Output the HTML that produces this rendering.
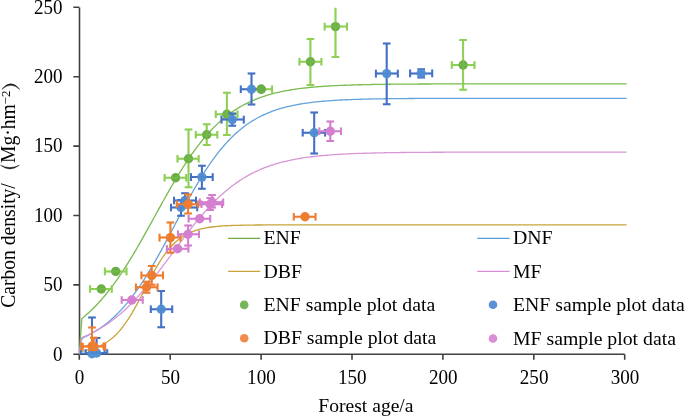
<!DOCTYPE html>
<html><head><meta charset="utf-8"><style>
html,body{margin:0;padding:0;background:#fff;}
svg{display:block;will-change:transform;}
text{font-family:"Liberation Serif",serif;font-size:19.6px;fill:#000;}
</style></head><body>
<svg width="685" height="416" viewBox="0 0 685 416">
<defs><clipPath id="pa"><rect x="79" y="7.4" width="548" height="347"/></clipPath></defs>
<rect width="685" height="416" fill="#fff"/>
<path d="M79.5,7.4V354.3H624.7M73.3,354.30H79.3M73.3,284.90H79.3M73.3,215.50H79.3M73.3,146.10H79.3M73.3,76.70H79.3M73.3,7.30H79.3M79.30,354.3V359.8M170.20,354.3V359.8M261.10,354.3V359.8M352.00,354.3V359.8M442.90,354.3V359.8M533.80,354.3V359.8M624.70,354.3V359.8" stroke="#404040" stroke-width="1.6" fill="none"/>
<g clip-path="url(#pa)" fill="none" stroke-width="1.3">
<path d="M79.30,354.30 L81.85,318.57 L82.94,317.68 L84.75,316.17 L86.57,314.60 L88.39,312.98 L90.21,311.30 L92.03,309.56 L93.84,307.77 L95.66,305.92 L97.48,304.01 L99.30,302.04 L101.12,300.01 L102.93,297.92 L104.75,295.76 L106.57,293.55 L108.39,291.28 L110.21,288.95 L112.02,286.55 L113.84,284.10 L115.66,281.58 L117.48,279.01 L119.30,276.38 L121.11,273.69 L122.93,270.94 L124.75,268.15 L126.57,265.30 L128.39,262.40 L130.20,259.45 L132.02,256.45 L133.84,253.42 L135.66,250.34 L137.48,247.22 L139.29,244.07 L141.11,240.89 L142.93,237.68 L144.75,234.44 L146.57,231.18 L148.38,227.91 L150.20,224.62 L152.02,221.32 L153.84,218.02 L155.66,214.71 L157.47,211.41 L159.29,208.11 L161.11,204.82 L162.93,201.55 L164.75,198.29 L166.56,195.06 L168.38,191.85 L170.20,188.67 L172.02,185.52 L173.84,182.41 L175.65,179.34 L177.47,176.31 L179.29,173.32 L181.11,170.38 L182.93,167.50 L184.74,164.66 L186.56,161.88 L188.38,159.15 L190.20,156.48 L192.02,153.87 L193.83,151.32 L195.65,148.83 L197.47,146.41 L199.29,144.04 L201.11,141.74 L202.92,139.51 L204.74,137.34 L206.56,135.23 L208.38,133.18 L210.20,131.20 L212.01,129.28 L213.83,127.42 L215.65,125.62 L217.47,123.88 L219.29,122.21 L221.10,120.59 L222.92,119.03 L224.74,117.52 L226.56,116.07 L228.38,114.68 L230.19,113.33 L232.01,112.04 L233.83,110.80 L235.65,109.60 L237.47,108.46 L239.28,107.36 L241.10,106.30 L242.92,105.29 L244.74,104.32 L246.56,103.39 L248.37,102.50 L250.19,101.64 L252.01,100.82 L253.83,100.04 L255.65,99.29 L257.46,98.58 L259.28,97.89 L261.10,97.24 L262.92,96.61 L264.74,96.01 L266.55,95.44 L268.37,94.89 L270.19,94.37 L272.01,93.88 L273.83,93.40 L275.64,92.95 L277.46,92.51 L279.28,92.10 L281.10,91.71 L282.92,91.33 L284.73,90.97 L286.55,90.63 L288.37,90.31 L290.19,90.00 L292.01,89.70 L293.82,89.42 L295.64,89.15 L297.46,88.90 L299.28,88.65 L301.10,88.42 L302.91,88.20 L304.73,87.99 L306.55,87.79 L308.37,87.60 L310.19,87.42 L312.00,87.24 L313.82,87.08 L315.64,86.92 L317.46,86.77 L319.28,86.63 L321.09,86.49 L322.91,86.36 L324.73,86.24 L326.55,86.12 L328.37,86.01 L330.18,85.91 L332.00,85.81 L333.82,85.71 L335.64,85.62 L337.46,85.53 L339.27,85.45 L341.09,85.37 L342.91,85.30 L344.73,85.23 L346.55,85.16 L348.36,85.10 L350.18,85.03 L352.00,84.98 L353.82,84.92 L355.64,84.87 L357.45,84.82 L359.27,84.77 L361.09,84.73 L362.91,84.68 L364.73,84.64 L366.54,84.60 L368.36,84.57 L370.18,84.53 L372.00,84.50 L373.82,84.47 L375.63,84.44 L377.45,84.41 L379.27,84.38 L381.09,84.35 L382.91,84.33 L384.72,84.30 L386.54,84.28 L388.36,84.26 L390.18,84.24 L392.00,84.22 L393.81,84.20 L395.63,84.19 L397.45,84.17 L399.27,84.15 L401.09,84.14 L402.90,84.12 L404.72,84.11 L406.54,84.10 L408.36,84.09 L410.18,84.07 L411.99,84.06 L413.81,84.05 L415.63,84.04 L417.45,84.03 L419.27,84.02 L421.08,84.01 L422.90,84.01 L424.72,84.00 L426.54,83.99 L428.36,83.98 L430.17,83.98 L431.99,83.97 L433.81,83.97 L435.63,83.96 L437.45,83.95 L439.26,83.95 L441.08,83.94 L442.90,83.94 L444.72,83.93 L446.54,83.93 L448.35,83.93 L450.17,83.92 L451.99,83.92 L453.81,83.92 L455.63,83.91 L457.44,83.91 L459.26,83.91 L461.08,83.90 L462.90,83.90 L464.72,83.90 L466.53,83.90 L468.35,83.89 L470.17,83.89 L471.99,83.89 L473.81,83.89 L475.62,83.88 L477.44,83.88 L479.26,83.88 L481.08,83.88 L482.90,83.88 L484.71,83.88 L486.53,83.88 L488.35,83.87 L490.17,83.87 L491.99,83.87 L493.80,83.87 L495.62,83.87 L497.44,83.87 L499.26,83.87 L501.08,83.87 L502.89,83.87 L504.71,83.86 L506.53,83.86 L508.35,83.86 L510.17,83.86 L511.98,83.86 L513.80,83.86 L515.62,83.86 L517.44,83.86 L519.26,83.86 L521.07,83.86 L522.89,83.86 L524.71,83.86 L526.53,83.86 L528.35,83.86 L530.16,83.86 L531.98,83.86 L533.80,83.86 L535.62,83.86 L537.44,83.85 L539.25,83.85 L541.07,83.85 L542.89,83.85 L544.71,83.85 L546.53,83.85 L548.34,83.85 L550.16,83.85 L551.98,83.85 L553.80,83.85 L555.62,83.85 L557.43,83.85 L559.25,83.85 L561.07,83.85 L562.89,83.85 L564.71,83.85 L566.52,83.85 L568.34,83.85 L570.16,83.85 L571.98,83.85 L573.80,83.85 L575.61,83.85 L577.43,83.85 L579.25,83.85 L581.07,83.85 L582.89,83.85 L584.70,83.85 L586.52,83.85 L588.34,83.85 L590.16,83.85 L591.98,83.85 L593.79,83.85 L595.61,83.85 L597.43,83.85 L599.25,83.85 L601.07,83.85 L602.88,83.85 L604.70,83.85 L606.52,83.85 L608.34,83.85 L610.16,83.85 L611.97,83.85 L613.79,83.85 L615.61,83.85 L617.43,83.85 L619.25,83.85 L621.06,83.85 L622.88,83.85 L624.70,83.85 L626.52,83.85" stroke="#78BB4E"/>
<path d="M79.30,354.30 L81.85,338.28 L82.94,337.80 L84.75,336.96 L86.57,336.09 L88.39,335.17 L90.21,334.21 L92.03,333.21 L93.84,332.16 L95.66,331.07 L97.48,329.92 L99.30,328.73 L101.12,327.48 L102.93,326.18 L104.75,324.82 L106.57,323.41 L108.39,321.93 L110.21,320.40 L112.02,318.81 L113.84,317.15 L115.66,315.43 L117.48,313.64 L119.30,311.79 L121.11,309.86 L122.93,307.87 L124.75,305.81 L126.57,303.68 L128.39,301.48 L130.20,299.21 L132.02,296.87 L133.84,294.46 L135.66,291.97 L137.48,289.42 L139.29,286.80 L141.11,284.11 L142.93,281.35 L144.75,278.52 L146.57,275.64 L148.38,272.69 L150.20,269.68 L152.02,266.62 L153.84,263.50 L155.66,260.33 L157.47,257.12 L159.29,253.86 L161.11,250.57 L162.93,247.23 L164.75,243.87 L166.56,240.48 L168.38,237.07 L170.20,233.65 L172.02,230.21 L173.84,226.76 L175.65,223.31 L177.47,219.87 L179.29,216.43 L181.11,213.01 L182.93,209.60 L184.74,206.22 L186.56,202.86 L188.38,199.54 L190.20,196.25 L192.02,193.01 L193.83,189.80 L195.65,186.65 L197.47,183.55 L199.29,180.50 L201.11,177.51 L202.92,174.58 L204.74,171.71 L206.56,168.91 L208.38,166.17 L210.20,163.50 L212.01,160.90 L213.83,158.38 L215.65,155.92 L217.47,153.53 L219.29,151.22 L221.10,148.98 L222.92,146.81 L224.74,144.71 L226.56,142.68 L228.38,140.73 L230.19,138.84 L232.01,137.02 L233.83,135.27 L235.65,133.58 L237.47,131.96 L239.28,130.40 L241.10,128.91 L242.92,127.47 L244.74,126.10 L246.56,124.78 L248.37,123.51 L250.19,122.30 L252.01,121.15 L253.83,120.04 L255.65,118.98 L257.46,117.97 L259.28,117.00 L261.10,116.08 L262.92,115.20 L264.74,114.36 L266.55,113.56 L268.37,112.80 L270.19,112.07 L272.01,111.38 L273.83,110.72 L275.64,110.09 L277.46,109.49 L279.28,108.92 L281.10,108.38 L282.92,107.87 L284.73,107.38 L286.55,106.91 L288.37,106.47 L290.19,106.05 L292.01,105.65 L293.82,105.27 L295.64,104.91 L297.46,104.57 L299.28,104.24 L301.10,103.93 L302.91,103.64 L304.73,103.36 L306.55,103.10 L308.37,102.85 L310.19,102.61 L312.00,102.38 L313.82,102.17 L315.64,101.97 L317.46,101.78 L319.28,101.59 L321.09,101.42 L322.91,101.26 L324.73,101.10 L326.55,100.95 L328.37,100.81 L330.18,100.68 L332.00,100.55 L333.82,100.43 L335.64,100.32 L337.46,100.21 L339.27,100.11 L341.09,100.02 L342.91,99.92 L344.73,99.84 L346.55,99.76 L348.36,99.68 L350.18,99.61 L352.00,99.54 L353.82,99.47 L355.64,99.41 L357.45,99.35 L359.27,99.29 L361.09,99.24 L362.91,99.19 L364.73,99.14 L366.54,99.09 L368.36,99.05 L370.18,99.01 L372.00,98.97 L373.82,98.94 L375.63,98.90 L377.45,98.87 L379.27,98.84 L381.09,98.81 L382.91,98.78 L384.72,98.75 L386.54,98.73 L388.36,98.71 L390.18,98.68 L392.00,98.66 L393.81,98.64 L395.63,98.62 L397.45,98.61 L399.27,98.59 L401.09,98.57 L402.90,98.56 L404.72,98.54 L406.54,98.53 L408.36,98.52 L410.18,98.50 L411.99,98.49 L413.81,98.48 L415.63,98.47 L417.45,98.46 L419.27,98.45 L421.08,98.44 L422.90,98.43 L424.72,98.43 L426.54,98.42 L428.36,98.41 L430.17,98.40 L431.99,98.40 L433.81,98.39 L435.63,98.39 L437.45,98.38 L439.26,98.38 L441.08,98.37 L442.90,98.37 L444.72,98.36 L446.54,98.36 L448.35,98.35 L450.17,98.35 L451.99,98.35 L453.81,98.34 L455.63,98.34 L457.44,98.34 L459.26,98.33 L461.08,98.33 L462.90,98.33 L464.72,98.33 L466.53,98.32 L468.35,98.32 L470.17,98.32 L471.99,98.32 L473.81,98.32 L475.62,98.31 L477.44,98.31 L479.26,98.31 L481.08,98.31 L482.90,98.31 L484.71,98.31 L486.53,98.31 L488.35,98.30 L490.17,98.30 L491.99,98.30 L493.80,98.30 L495.62,98.30 L497.44,98.30 L499.26,98.30 L501.08,98.30 L502.89,98.30 L504.71,98.30 L506.53,98.30 L508.35,98.30 L510.17,98.29 L511.98,98.29 L513.80,98.29 L515.62,98.29 L517.44,98.29 L519.26,98.29 L521.07,98.29 L522.89,98.29 L524.71,98.29 L526.53,98.29 L528.35,98.29 L530.16,98.29 L531.98,98.29 L533.80,98.29 L535.62,98.29 L537.44,98.29 L539.25,98.29 L541.07,98.29 L542.89,98.29 L544.71,98.29 L546.53,98.29 L548.34,98.29 L550.16,98.29 L551.98,98.29 L553.80,98.29 L555.62,98.29 L557.43,98.29 L559.25,98.29 L561.07,98.29 L562.89,98.29 L564.71,98.29 L566.52,98.29 L568.34,98.29 L570.16,98.29 L571.98,98.29 L573.80,98.29 L575.61,98.28 L577.43,98.28 L579.25,98.28 L581.07,98.28 L582.89,98.28 L584.70,98.28 L586.52,98.28 L588.34,98.28 L590.16,98.28 L591.98,98.28 L593.79,98.28 L595.61,98.28 L597.43,98.28 L599.25,98.28 L601.07,98.28 L602.88,98.28 L604.70,98.28 L606.52,98.28 L608.34,98.28 L610.16,98.28 L611.97,98.28 L613.79,98.28 L615.61,98.28 L617.43,98.28 L619.25,98.28 L621.06,98.28 L622.88,98.28 L624.70,98.28 L626.52,98.28" stroke="#65A2DA"/>
<path d="M79.30,351.74 L81.12,351.45 L82.94,351.14 L84.75,350.79 L86.57,350.40 L88.39,349.97 L90.21,349.49 L92.03,348.97 L93.84,348.39 L95.66,347.75 L97.48,347.04 L99.30,346.26 L101.12,345.41 L102.93,344.47 L104.75,343.44 L106.57,342.31 L108.39,341.08 L110.21,339.74 L112.02,338.27 L113.84,336.69 L115.66,334.97 L117.48,333.11 L119.30,331.12 L121.11,328.97 L122.93,326.68 L124.75,324.24 L126.57,321.66 L128.39,318.92 L130.20,316.05 L132.02,313.04 L133.84,309.91 L135.66,306.67 L137.48,303.33 L139.29,299.91 L141.11,296.43 L142.93,292.90 L144.75,289.36 L146.57,285.81 L148.38,282.28 L150.20,278.79 L152.02,275.37 L153.84,272.03 L155.66,268.78 L157.47,265.64 L159.29,262.63 L161.11,259.75 L162.93,257.01 L164.75,254.42 L166.56,251.98 L168.38,249.69 L170.20,247.55 L172.02,245.56 L173.84,243.71 L175.65,242.00 L177.47,240.42 L179.29,238.97 L181.11,237.64 L182.93,236.42 L184.74,235.31 L186.56,234.30 L188.38,233.38 L190.20,232.54 L192.02,231.78 L193.83,231.09 L195.65,230.47 L197.47,229.90 L199.29,229.39 L201.11,228.93 L202.92,228.52 L204.74,228.15 L206.56,227.81 L208.38,227.51 L210.20,227.24 L212.01,226.99 L213.83,226.77 L215.65,226.58 L217.47,226.40 L219.29,226.24 L221.10,226.10 L222.92,225.97 L224.74,225.86 L226.56,225.75 L228.38,225.66 L230.19,225.58 L232.01,225.50 L233.83,225.44 L235.65,225.38 L237.47,225.33 L239.28,225.28 L241.10,225.24 L242.92,225.20 L244.74,225.16 L246.56,225.13 L248.37,225.10 L250.19,225.08 L252.01,225.06 L253.83,225.04 L255.65,225.02 L257.46,225.00 L259.28,224.99 L261.10,224.98 L262.92,224.97 L264.74,224.96 L266.55,224.95 L268.37,224.94 L270.19,224.93 L272.01,224.92 L273.83,224.92 L275.64,224.91 L277.46,224.91 L279.28,224.90 L281.10,224.90 L282.92,224.90 L284.73,224.89 L286.55,224.89 L288.37,224.89 L290.19,224.89 L292.01,224.89 L293.82,224.88 L295.64,224.88 L297.46,224.88 L299.28,224.88 L301.10,224.88 L302.91,224.88 L304.73,224.88 L306.55,224.88 L308.37,224.88 L310.19,224.87 L312.00,224.87 L313.82,224.87 L315.64,224.87 L317.46,224.87 L319.28,224.87 L321.09,224.87 L322.91,224.87 L324.73,224.87 L326.55,224.87 L328.37,224.87 L330.18,224.87 L332.00,224.87 L333.82,224.87 L335.64,224.87 L337.46,224.87 L339.27,224.87 L341.09,224.87 L342.91,224.87 L344.73,224.87 L346.55,224.87 L348.36,224.87 L350.18,224.87 L352.00,224.87 L353.82,224.87 L355.64,224.87 L357.45,224.87 L359.27,224.87 L361.09,224.87 L362.91,224.87 L364.73,224.87 L366.54,224.87 L368.36,224.87 L370.18,224.87 L372.00,224.87 L373.82,224.87 L375.63,224.87 L377.45,224.87 L379.27,224.87 L381.09,224.87 L382.91,224.87 L384.72,224.87 L386.54,224.87 L388.36,224.87 L390.18,224.87 L392.00,224.87 L393.81,224.87 L395.63,224.87 L397.45,224.87 L399.27,224.87 L401.09,224.87 L402.90,224.87 L404.72,224.87 L406.54,224.87 L408.36,224.87 L410.18,224.87 L411.99,224.87 L413.81,224.87 L415.63,224.87 L417.45,224.87 L419.27,224.87 L421.08,224.87 L422.90,224.87 L424.72,224.87 L426.54,224.87 L428.36,224.87 L430.17,224.87 L431.99,224.87 L433.81,224.87 L435.63,224.87 L437.45,224.87 L439.26,224.87 L441.08,224.87 L442.90,224.87 L444.72,224.87 L446.54,224.87 L448.35,224.87 L450.17,224.87 L451.99,224.87 L453.81,224.87 L455.63,224.87 L457.44,224.87 L459.26,224.87 L461.08,224.87 L462.90,224.87 L464.72,224.87 L466.53,224.87 L468.35,224.87 L470.17,224.87 L471.99,224.87 L473.81,224.87 L475.62,224.87 L477.44,224.87 L479.26,224.87 L481.08,224.87 L482.90,224.87 L484.71,224.87 L486.53,224.87 L488.35,224.87 L490.17,224.87 L491.99,224.87 L493.80,224.87 L495.62,224.87 L497.44,224.87 L499.26,224.87 L501.08,224.87 L502.89,224.87 L504.71,224.87 L506.53,224.87 L508.35,224.87 L510.17,224.87 L511.98,224.87 L513.80,224.87 L515.62,224.87 L517.44,224.87 L519.26,224.87 L521.07,224.87 L522.89,224.87 L524.71,224.87 L526.53,224.87 L528.35,224.87 L530.16,224.87 L531.98,224.87 L533.80,224.87 L535.62,224.87 L537.44,224.87 L539.25,224.87 L541.07,224.87 L542.89,224.87 L544.71,224.87 L546.53,224.87 L548.34,224.87 L550.16,224.87 L551.98,224.87 L553.80,224.87 L555.62,224.87 L557.43,224.87 L559.25,224.87 L561.07,224.87 L562.89,224.87 L564.71,224.87 L566.52,224.87 L568.34,224.87 L570.16,224.87 L571.98,224.87 L573.80,224.87 L575.61,224.87 L577.43,224.87 L579.25,224.87 L581.07,224.87 L582.89,224.87 L584.70,224.87 L586.52,224.87 L588.34,224.87 L590.16,224.87 L591.98,224.87 L593.79,224.87 L595.61,224.87 L597.43,224.87 L599.25,224.87 L601.07,224.87 L602.88,224.87 L604.70,224.87 L606.52,224.87 L608.34,224.87 L610.16,224.87 L611.97,224.87 L613.79,224.87 L615.61,224.87 L617.43,224.87 L619.25,224.87 L621.06,224.87 L622.88,224.87 L624.70,224.87 L626.52,224.87" stroke="#C9A43C"/>
<path d="M79.30,354.30 L81.85,337.59 L82.94,337.14 L84.75,336.37 L86.57,335.57 L88.39,334.74 L90.21,333.87 L92.03,332.97 L93.84,332.03 L95.66,331.06 L97.48,330.05 L99.30,329.01 L101.12,327.92 L102.93,326.79 L104.75,325.63 L106.57,324.42 L108.39,323.17 L110.21,321.88 L112.02,320.55 L113.84,319.17 L115.66,317.75 L117.48,316.28 L119.30,314.77 L121.11,313.21 L122.93,311.60 L124.75,309.95 L126.57,308.26 L128.39,306.52 L130.20,304.73 L132.02,302.90 L133.84,301.02 L135.66,299.10 L137.48,297.14 L139.29,295.14 L141.11,293.09 L142.93,291.00 L144.75,288.88 L146.57,286.72 L148.38,284.52 L150.20,282.29 L152.02,280.03 L153.84,277.73 L155.66,275.41 L157.47,273.06 L159.29,270.70 L161.11,268.31 L162.93,265.90 L164.75,263.47 L166.56,261.04 L168.38,258.59 L170.20,256.14 L172.02,253.68 L173.84,251.23 L175.65,248.77 L177.47,246.32 L179.29,243.88 L181.11,241.44 L182.93,239.02 L184.74,236.62 L186.56,234.24 L188.38,231.87 L190.20,229.53 L192.02,227.22 L193.83,224.93 L195.65,222.68 L197.47,220.45 L199.29,218.27 L201.11,216.11 L202.92,214.00 L204.74,211.92 L206.56,209.89 L208.38,207.90 L210.20,205.95 L212.01,204.04 L213.83,202.18 L215.65,200.36 L217.47,198.59 L219.29,196.87 L221.10,195.19 L222.92,193.55 L224.74,191.97 L226.56,190.43 L228.38,188.93 L230.19,187.48 L232.01,186.08 L233.83,184.72 L235.65,183.40 L237.47,182.13 L239.28,180.90 L241.10,179.72 L242.92,178.57 L244.74,177.47 L246.56,176.40 L248.37,175.37 L250.19,174.39 L252.01,173.43 L253.83,172.52 L255.65,171.64 L257.46,170.79 L259.28,169.98 L261.10,169.19 L262.92,168.44 L264.74,167.72 L266.55,167.03 L268.37,166.37 L270.19,165.73 L272.01,165.12 L273.83,164.54 L275.64,163.98 L277.46,163.44 L279.28,162.93 L281.10,162.44 L282.92,161.97 L284.73,161.52 L286.55,161.09 L288.37,160.68 L290.19,160.28 L292.01,159.91 L293.82,159.55 L295.64,159.20 L297.46,158.88 L299.28,158.56 L301.10,158.26 L302.91,157.98 L304.73,157.70 L306.55,157.44 L308.37,157.19 L310.19,156.95 L312.00,156.73 L313.82,156.51 L315.64,156.30 L317.46,156.11 L319.28,155.92 L321.09,155.74 L322.91,155.57 L324.73,155.40 L326.55,155.25 L328.37,155.10 L330.18,154.96 L332.00,154.82 L333.82,154.69 L335.64,154.57 L337.46,154.45 L339.27,154.34 L341.09,154.23 L342.91,154.13 L344.73,154.04 L346.55,153.94 L348.36,153.86 L350.18,153.77 L352.00,153.69 L353.82,153.62 L355.64,153.54 L357.45,153.47 L359.27,153.41 L361.09,153.35 L362.91,153.29 L364.73,153.23 L366.54,153.17 L368.36,153.12 L370.18,153.07 L372.00,153.03 L373.82,152.98 L375.63,152.94 L377.45,152.90 L379.27,152.86 L381.09,152.82 L382.91,152.79 L384.72,152.75 L386.54,152.72 L388.36,152.69 L390.18,152.66 L392.00,152.64 L393.81,152.61 L395.63,152.59 L397.45,152.56 L399.27,152.54 L401.09,152.52 L402.90,152.50 L404.72,152.48 L406.54,152.46 L408.36,152.44 L410.18,152.42 L411.99,152.41 L413.81,152.39 L415.63,152.38 L417.45,152.36 L419.27,152.35 L421.08,152.34 L422.90,152.33 L424.72,152.32 L426.54,152.30 L428.36,152.29 L430.17,152.28 L431.99,152.27 L433.81,152.27 L435.63,152.26 L437.45,152.25 L439.26,152.24 L441.08,152.23 L442.90,152.23 L444.72,152.22 L446.54,152.21 L448.35,152.21 L450.17,152.20 L451.99,152.20 L453.81,152.19 L455.63,152.19 L457.44,152.18 L459.26,152.18 L461.08,152.17 L462.90,152.17 L464.72,152.16 L466.53,152.16 L468.35,152.16 L470.17,152.15 L471.99,152.15 L473.81,152.15 L475.62,152.15 L477.44,152.14 L479.26,152.14 L481.08,152.14 L482.90,152.13 L484.71,152.13 L486.53,152.13 L488.35,152.13 L490.17,152.13 L491.99,152.12 L493.80,152.12 L495.62,152.12 L497.44,152.12 L499.26,152.12 L501.08,152.12 L502.89,152.12 L504.71,152.11 L506.53,152.11 L508.35,152.11 L510.17,152.11 L511.98,152.11 L513.80,152.11 L515.62,152.11 L517.44,152.11 L519.26,152.11 L521.07,152.10 L522.89,152.10 L524.71,152.10 L526.53,152.10 L528.35,152.10 L530.16,152.10 L531.98,152.10 L533.80,152.10 L535.62,152.10 L537.44,152.10 L539.25,152.10 L541.07,152.10 L542.89,152.10 L544.71,152.10 L546.53,152.10 L548.34,152.10 L550.16,152.10 L551.98,152.09 L553.80,152.09 L555.62,152.09 L557.43,152.09 L559.25,152.09 L561.07,152.09 L562.89,152.09 L564.71,152.09 L566.52,152.09 L568.34,152.09 L570.16,152.09 L571.98,152.09 L573.80,152.09 L575.61,152.09 L577.43,152.09 L579.25,152.09 L581.07,152.09 L582.89,152.09 L584.70,152.09 L586.52,152.09 L588.34,152.09 L590.16,152.09 L591.98,152.09 L593.79,152.09 L595.61,152.09 L597.43,152.09 L599.25,152.09 L601.07,152.09 L602.88,152.09 L604.70,152.09 L606.52,152.09 L608.34,152.09 L610.16,152.09 L611.97,152.09 L613.79,152.09 L615.61,152.09 L617.43,152.09 L619.25,152.09 L621.06,152.09 L622.88,152.09 L624.70,152.09 L626.52,152.09" stroke="#D896D8"/>
</g>
<path clip-path="url(#pa)" d="M310.4,39V84.9M306.59999999999997,39H314.2M306.59999999999997,84.9H314.2M299.4,61.7H321.4M299.4,57.900000000000006V65.5M321.4,57.900000000000006V65.5M335.5,7.4V57M331.7,57H339.3M324.7,26.6H347M324.7,22.8V30.400000000000002M347,22.8V30.400000000000002M463.1,40V89.7M459.3,40H466.90000000000003M459.3,89.7H466.90000000000003M451.8,65.0H474.5M451.8,61.2V68.8M474.5,61.2V68.8M250.3,89.2H272.1M250.3,85.4V93.0M272.1,85.4V93.0M226.9,92.7V135M223.1,92.7H230.70000000000002M223.1,135H230.70000000000002M215.8,114.2H237.5M215.8,110.4V118.0M237.5,110.4V118.0M206.7,124.2V145M202.89999999999998,124.2H210.5M202.89999999999998,145H210.5M195.8,134.8H217.3M195.8,131.0V138.60000000000002M217.3,131.0V138.60000000000002M188.5,129.6V187.3M184.7,129.6H192.3M184.7,187.3H192.3M177.5,158.8H198.7M177.5,155.0V162.60000000000002M198.7,155.0V162.60000000000002M164.6,177.7H186.2M164.6,173.89999999999998V181.5M186.2,173.89999999999998V181.5M104.9,271.4H126.5M104.9,267.59999999999997V275.2M126.5,267.59999999999997V275.2M90.1,289.0H111.8M90.1,285.2V292.8M111.8,285.2V292.8" stroke="#8FCF55" stroke-width="2.0" fill="none"/>
<circle cx="310.4" cy="61.7" r="4.7" fill="#6BAE45"/>
<circle cx="335.5" cy="26.6" r="4.7" fill="#6BAE45"/>
<circle cx="463.1" cy="65.0" r="4.7" fill="#6BAE45"/>
<circle cx="261.2" cy="89.2" r="4.7" fill="#6BAE45"/>
<circle cx="226.9" cy="114.2" r="4.7" fill="#6BAE45"/>
<circle cx="206.7" cy="134.8" r="4.7" fill="#6BAE45"/>
<circle cx="188.5" cy="158.8" r="4.7" fill="#6BAE45"/>
<circle cx="175.6" cy="177.7" r="4.7" fill="#6BAE45"/>
<circle cx="115.7" cy="271.4" r="4.7" fill="#6BAE45"/>
<circle cx="101.3" cy="289.0" r="4.7" fill="#6BAE45"/>
<path clip-path="url(#pa)" d="M310.4,39V84.9M306.59999999999997,39H314.2M306.59999999999997,84.9H314.2M299.4,61.7H321.4M299.4,57.900000000000006V65.5M321.4,57.900000000000006V65.5M335.5,7.4V57M331.7,57H339.3M324.7,26.6H347M324.7,22.8V30.400000000000002M347,22.8V30.400000000000002M463.1,40V89.7M459.3,40H466.90000000000003M459.3,89.7H466.90000000000003M451.8,65.0H474.5M451.8,61.2V68.8M474.5,61.2V68.8M250.3,89.2H272.1M250.3,85.4V93.0M272.1,85.4V93.0M226.9,92.7V135M223.1,92.7H230.70000000000002M223.1,135H230.70000000000002M215.8,114.2H237.5M215.8,110.4V118.0M237.5,110.4V118.0M206.7,124.2V145M202.89999999999998,124.2H210.5M202.89999999999998,145H210.5M195.8,134.8H217.3M195.8,131.0V138.60000000000002M217.3,131.0V138.60000000000002M188.5,129.6V187.3M184.7,129.6H192.3M184.7,187.3H192.3M177.5,158.8H198.7M177.5,155.0V162.60000000000002M198.7,155.0V162.60000000000002M164.6,177.7H186.2M164.6,173.89999999999998V181.5M186.2,173.89999999999998V181.5M104.9,271.4H126.5M104.9,267.59999999999997V275.2M126.5,267.59999999999997V275.2M90.1,289.0H111.8M90.1,285.2V292.8M111.8,285.2V292.8" stroke="#8FCF55" stroke-width="2.0" fill="none" opacity="0.3"/>
<path clip-path="url(#pa)" d="M386.7,43.5V104.2M382.9,43.5H390.5M382.9,104.2H390.5M375.9,73.6H397.8M375.9,69.8V77.39999999999999M397.8,69.8V77.39999999999999M421.2,69.3V77.4M417.4,69.3H425.0M417.4,77.4H425.0M410.1,73.4H432.2M410.1,69.60000000000001V77.2M432.2,69.60000000000001V77.2M251.5,73.5V104.6M247.7,73.5H255.3M247.7,104.6H255.3M240.8,89.2H262.2M240.8,85.4V93.0M262.2,85.4V93.0M232.3,113.4V125.8M228.5,113.4H236.10000000000002M228.5,125.8H236.10000000000002M221.5,119.6H243.8M221.5,115.8V123.39999999999999M243.8,115.8V123.39999999999999M201.9,165.8V188.7M198.1,165.8H205.70000000000002M198.1,188.7H205.70000000000002M191,177.1H212.7M191,173.29999999999998V180.9M212.7,173.29999999999998V180.9M314.2,112.6V153.5M310.4,112.6H318.0M310.4,153.5H318.0M302.7,132.8H325.1M302.7,129.0V136.60000000000002M325.1,129.0V136.60000000000002M185,193.2V207.5M181.2,193.2H188.8M181.2,207.5H188.8M174,200.5H196M174,196.7V204.3M196,196.7V204.3M181,200V215.8M177.2,200H184.8M177.2,215.8H184.8M171,207.5H197.2M171,203.7V211.3M197.2,203.7V211.3M161.2,291V327.2M157.39999999999998,291H165.0M157.39999999999998,327.2H165.0M150.8,309.2H172.2M150.8,305.4V313.0M172.2,305.4V313.0M92,317.4V356M88.2,317.4H95.8M80.9,353.8H104.5M80.9,350.0V357.6M104.5,350.0V357.6M96.6,338V356M92.8,338H100.39999999999999M85.7,353H107.2M85.7,349.2V356.8M107.2,349.2V356.8" stroke="#4472C4" stroke-width="2.0" fill="none"/>
<circle cx="386.7" cy="73.6" r="4.7" fill="#5593D6"/>
<circle cx="421.2" cy="73.4" r="4.7" fill="#5593D6"/>
<circle cx="251.5" cy="89.2" r="4.7" fill="#5593D6"/>
<circle cx="232.3" cy="119.6" r="4.7" fill="#5593D6"/>
<circle cx="201.9" cy="177.1" r="4.7" fill="#5593D6"/>
<circle cx="314.2" cy="132.8" r="4.7" fill="#5593D6"/>
<circle cx="185" cy="200.5" r="4.7" fill="#5593D6"/>
<circle cx="181" cy="207.5" r="4.7" fill="#5593D6"/>
<circle cx="161.2" cy="309.2" r="4.7" fill="#5593D6"/>
<circle cx="92" cy="353.8" r="4.7" fill="#5593D6"/>
<circle cx="96.6" cy="353" r="4.7" fill="#5593D6"/>
<path clip-path="url(#pa)" d="M386.7,43.5V104.2M382.9,43.5H390.5M382.9,104.2H390.5M375.9,73.6H397.8M375.9,69.8V77.39999999999999M397.8,69.8V77.39999999999999M421.2,69.3V77.4M417.4,69.3H425.0M417.4,77.4H425.0M410.1,73.4H432.2M410.1,69.60000000000001V77.2M432.2,69.60000000000001V77.2M251.5,73.5V104.6M247.7,73.5H255.3M247.7,104.6H255.3M240.8,89.2H262.2M240.8,85.4V93.0M262.2,85.4V93.0M232.3,113.4V125.8M228.5,113.4H236.10000000000002M228.5,125.8H236.10000000000002M221.5,119.6H243.8M221.5,115.8V123.39999999999999M243.8,115.8V123.39999999999999M201.9,165.8V188.7M198.1,165.8H205.70000000000002M198.1,188.7H205.70000000000002M191,177.1H212.7M191,173.29999999999998V180.9M212.7,173.29999999999998V180.9M314.2,112.6V153.5M310.4,112.6H318.0M310.4,153.5H318.0M302.7,132.8H325.1M302.7,129.0V136.60000000000002M325.1,129.0V136.60000000000002M185,193.2V207.5M181.2,193.2H188.8M181.2,207.5H188.8M174,200.5H196M174,196.7V204.3M196,196.7V204.3M181,200V215.8M177.2,200H184.8M177.2,215.8H184.8M171,207.5H197.2M171,203.7V211.3M197.2,203.7V211.3M161.2,291V327.2M157.39999999999998,291H165.0M157.39999999999998,327.2H165.0M150.8,309.2H172.2M150.8,305.4V313.0M172.2,305.4V313.0M92,317.4V356M88.2,317.4H95.8M80.9,353.8H104.5M80.9,350.0V357.6M104.5,350.0V357.6M96.6,338V356M92.8,338H100.39999999999999M85.7,353H107.2M85.7,349.2V356.8M107.2,349.2V356.8" stroke="#4472C4" stroke-width="2.0" fill="none" opacity="0.3"/>
<circle cx="261.2" cy="89.2" r="4.7" fill="#6BAE45"/>
<path clip-path="url(#pa)" d="M293.8,216.8H315.5M293.8,213.0V220.60000000000002M315.5,213.0V220.60000000000002M188.1,194.6V213.4M184.29999999999998,194.6H191.9M184.29999999999998,213.4H191.9M176.8,204.2H198.2M176.8,200.39999999999998V208.0M198.2,200.39999999999998V208.0M170.4,222.5V252.8M166.6,222.5H174.20000000000002M166.6,252.8H174.20000000000002M159.5,237.6H180.5M159.5,233.79999999999998V241.4M180.5,233.79999999999998V241.4M151.7,266V284.8M147.89999999999998,266H155.5M147.89999999999998,284.8H155.5M141.4,275.4H163M141.4,271.59999999999997V279.2M163,271.59999999999997V279.2M146.5,281.8V292.7M142.7,281.8H150.3M142.7,292.7H150.3M135.9,287.3H157.5M135.9,283.5V291.1M157.5,283.5V291.1M92,327.4V350M88.2,327.4H95.8M88.2,350H95.8M81.2,346.2H103.6M81.2,342.4V350.0M103.6,342.4V350.0M93.8,337.8V350M90.0,337.8H97.6M90.0,350H97.6M82.7,346.6H105.2M82.7,342.8V350.40000000000003M105.2,342.8V350.40000000000003" stroke="#ED7D31" stroke-width="2.0" fill="none"/>
<circle cx="305" cy="216.8" r="4.7" fill="#ED7D31"/>
<circle cx="188.1" cy="204.2" r="4.7" fill="#ED7D31"/>
<circle cx="170.4" cy="237.6" r="4.7" fill="#ED7D31"/>
<circle cx="151.7" cy="275.4" r="4.7" fill="#ED7D31"/>
<circle cx="146.5" cy="287.3" r="4.7" fill="#ED7D31"/>
<circle cx="92" cy="346.2" r="4.7" fill="#ED7D31"/>
<circle cx="93.8" cy="346.6" r="4.7" fill="#ED7D31"/>
<path clip-path="url(#pa)" d="M293.8,216.8H315.5M293.8,213.0V220.60000000000002M315.5,213.0V220.60000000000002M188.1,194.6V213.4M184.29999999999998,194.6H191.9M184.29999999999998,213.4H191.9M176.8,204.2H198.2M176.8,200.39999999999998V208.0M198.2,200.39999999999998V208.0M170.4,222.5V252.8M166.6,222.5H174.20000000000002M166.6,252.8H174.20000000000002M159.5,237.6H180.5M159.5,233.79999999999998V241.4M180.5,233.79999999999998V241.4M151.7,266V284.8M147.89999999999998,266H155.5M147.89999999999998,284.8H155.5M141.4,275.4H163M141.4,271.59999999999997V279.2M163,271.59999999999997V279.2M146.5,281.8V292.7M142.7,281.8H150.3M142.7,292.7H150.3M135.9,287.3H157.5M135.9,283.5V291.1M157.5,283.5V291.1M92,327.4V350M88.2,327.4H95.8M88.2,350H95.8M81.2,346.2H103.6M81.2,342.4V350.0M103.6,342.4V350.0M93.8,337.8V350M90.0,337.8H97.6M90.0,350H97.6M82.7,346.6H105.2M82.7,342.8V350.40000000000003M105.2,342.8V350.40000000000003" stroke="#ED7D31" stroke-width="2.0" fill="none" opacity="0.3"/>
<path clip-path="url(#pa)" d="M330.3,121.6V141M326.5,121.6H334.1M326.5,141H334.1M319.3,131.3H341M319.3,127.50000000000001V135.10000000000002M341,127.50000000000001V135.10000000000002M212.1,195.1V207.6M208.29999999999998,195.1H215.9M208.29999999999998,207.6H215.9M199.8,202.3H223.2M199.8,198.5V206.10000000000002M223.2,198.5V206.10000000000002M210.2,198V210M206.39999999999998,198H214.0M206.39999999999998,210H214.0M201.5,204.2H222M201.5,200.39999999999998V208.0M222,200.39999999999998V208.0M188.6,218.7H210.2M188.6,214.89999999999998V222.5M210.2,214.89999999999998V222.5M188.1,225.4V245.6M184.29999999999998,225.4H191.9M184.29999999999998,245.6H191.9M178,234.3H199M178,230.5V238.10000000000002M199,230.5V238.10000000000002M166.9,248.8H188.4M166.9,245.0V252.60000000000002M188.4,245.0V252.60000000000002M121.7,300H142.7M121.7,296.2V303.8M142.7,296.2V303.8" stroke="#D47FCF" stroke-width="2.0" fill="none"/>
<circle cx="330.3" cy="131.3" r="4.7" fill="#D480D0"/>
<circle cx="212.1" cy="202.3" r="4.7" fill="#D480D0"/>
<circle cx="210.2" cy="204.2" r="4.7" fill="#D480D0"/>
<circle cx="199.6" cy="218.7" r="4.7" fill="#D480D0"/>
<circle cx="188.1" cy="234.3" r="4.7" fill="#D480D0"/>
<circle cx="177.6" cy="248.8" r="4.7" fill="#D480D0"/>
<circle cx="131.8" cy="300" r="4.7" fill="#D480D0"/>
<path clip-path="url(#pa)" d="M330.3,121.6V141M326.5,121.6H334.1M326.5,141H334.1M319.3,131.3H341M319.3,127.50000000000001V135.10000000000002M341,127.50000000000001V135.10000000000002M212.1,195.1V207.6M208.29999999999998,195.1H215.9M208.29999999999998,207.6H215.9M199.8,202.3H223.2M199.8,198.5V206.10000000000002M223.2,198.5V206.10000000000002M210.2,198V210M206.39999999999998,198H214.0M206.39999999999998,210H214.0M201.5,204.2H222M201.5,200.39999999999998V208.0M222,200.39999999999998V208.0M188.6,218.7H210.2M188.6,214.89999999999998V222.5M210.2,214.89999999999998V222.5M188.1,225.4V245.6M184.29999999999998,225.4H191.9M184.29999999999998,245.6H191.9M178,234.3H199M178,230.5V238.10000000000002M199,230.5V238.10000000000002M166.9,248.8H188.4M166.9,245.0V252.60000000000002M188.4,245.0V252.60000000000002M121.7,300H142.7M121.7,296.2V303.8M142.7,296.2V303.8" stroke="#D47FCF" stroke-width="2.0" fill="none" opacity="0.3"/>
<text transform="translate(62.4,360.60) scale(0.97,1.06)" text-anchor="end">0</text>
<text transform="translate(62.4,291.20) scale(0.97,1.06)" text-anchor="end">50</text>
<text transform="translate(62.4,221.80) scale(0.97,1.06)" text-anchor="end">100</text>
<text transform="translate(62.4,152.40) scale(0.97,1.06)" text-anchor="end">150</text>
<text transform="translate(62.4,83.00) scale(0.97,1.06)" text-anchor="end">200</text>
<text transform="translate(62.4,13.60) scale(0.97,1.06)" text-anchor="end">250</text>
<text transform="translate(79.60,383.6) scale(0.975,1.07)" text-anchor="middle">0</text>
<text transform="translate(170.50,383.6) scale(0.975,1.07)" text-anchor="middle">50</text>
<text transform="translate(261.40,383.6) scale(0.975,1.07)" text-anchor="middle">100</text>
<text transform="translate(352.30,383.6) scale(0.975,1.07)" text-anchor="middle">150</text>
<text transform="translate(443.20,383.6) scale(0.975,1.07)" text-anchor="middle">200</text>
<text transform="translate(534.10,383.6) scale(0.975,1.07)" text-anchor="middle">250</text>
<text transform="translate(625.00,383.6) scale(0.975,1.07)" text-anchor="middle">300</text>
<text x="318.3" y="411.7">Forest age/a</text>
<text transform="translate(15.4,307.8) rotate(-90) scale(1,1.06)">Carbon density/</text>
<path d="M0.6,165.3 Q9.9,172.6 19.2,165.3 Q9.9,169.8 0.6,165.3Z" stroke="#1a1a1a" stroke-width="0.5" fill="#1a1a1a"/>
<text transform="translate(15.4,163.0) rotate(-90) scale(1,1.06)">Mg·hm</text>
<text transform="translate(9.7,104.4) rotate(-90)" style="font-size:13px">−2</text>
<path d="M1.9,89.3 Q10.8,78.4 19.7,89.3 Q10.8,81.2 1.9,89.3Z" stroke="#1a1a1a" stroke-width="0.5" fill="#1a1a1a"/>
<path d="M228,238.4H260.2" stroke="#70AD47" stroke-width="1.4"/>
<text x="263.5" y="244.4" style="font-size:19.75px">ENF</text>
<path d="M477.2,238.4H509.6" stroke="#5B9BD5" stroke-width="1.4"/>
<text x="513" y="244.4" style="font-size:19.75px">DNF</text>
<path d="M228,271.4H260.2" stroke="#C9A43C" stroke-width="1.4"/>
<text x="263.5" y="277.6" style="font-size:19.75px">DBF</text>
<path d="M477.2,271.4H509.6" stroke="#D68FD6" stroke-width="1.4"/>
<text x="513" y="277.6" style="font-size:19.75px">MF</text>
<circle cx="244.2" cy="304.9" r="4.3" fill="#77B55A"/>
<text x="263.5" y="311.1" style="font-size:19.75px">ENF sample plot data</text>
<circle cx="493" cy="304.8" r="4.3" fill="#5B8FD6"/>
<text x="513" y="311.1" style="font-size:19.75px">ENF sample plot data</text>
<circle cx="244.2" cy="338.2" r="4.3" fill="#F08A4E"/>
<text x="263.5" y="344.1" style="font-size:19.75px">DBF sample plot data</text>
<circle cx="493" cy="338.5" r="4.3" fill="#D98ED6"/>
<text x="513" y="344.5" style="font-size:19.75px">MF sample plot data</text>
</svg>
</body></html>
